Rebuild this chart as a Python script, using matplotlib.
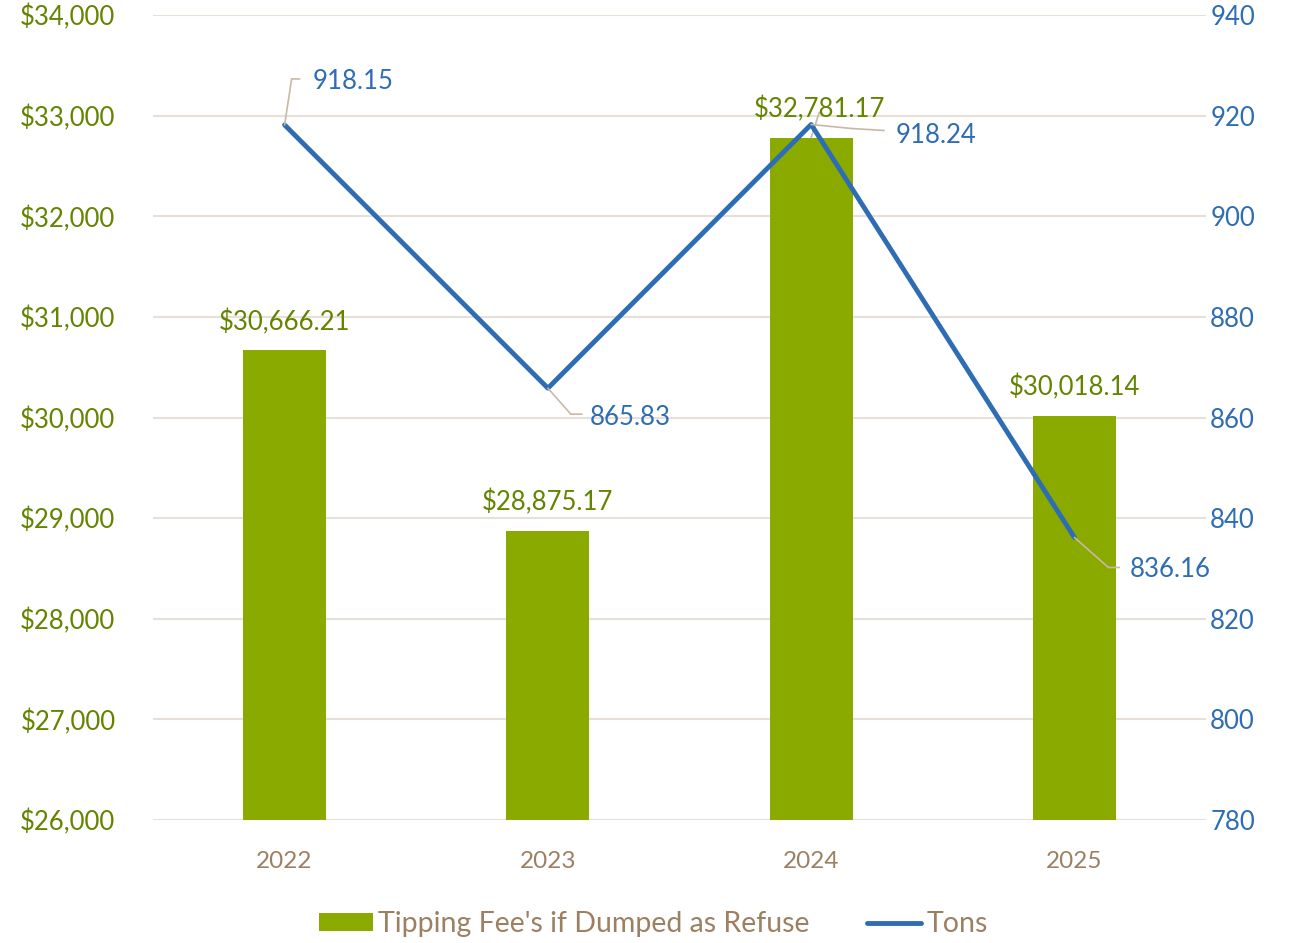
import matplotlib
matplotlib.use("Agg")
import matplotlib.pyplot as plt
from matplotlib.patches import Patch
from matplotlib.lines import Line2D
from matplotlib.transforms import offset_copy

years = ["2022", "2023", "2024", "2025"]
fees = [30666.21, 28875.17, 32781.17, 30018.14]
tons = [918.15, 865.83, 918.24, 836.16]
left_ticks = [26000, 27000, 28000, 29000, 30000, 31000, 32000, 33000, 34000]
right_ticks = [780, 800, 820, 840, 860, 880, 900, 920, 940]

BAR = "#8BAA00"
OLIVE = "#648400"
BLUE = "#2E6DB4"
BROWN = "#9C8062"
GRID = "#E6E0D8"
LEADER = "#C9B8A6"

plt.rcParams['font.family'] = ['Lato', 'DejaVu Sans']

fig = plt.figure(figsize=(12.91, 9.43), dpi=100)
ax = fig.add_axes([0.1185, 0.1304, 0.8157, 0.8537])
ax2 = ax.twinx()

x = list(range(len(years)))
ax.bar(x, fees, width=0.315, color=BAR, zorder=2)
ax.set_ylim(26000, 34000)
ax.set_xlim(-0.5, 3.5)
ax.set_yticks(left_ticks)
ax.set_yticklabels([f"${v:,.0f}" for v in left_ticks], color=OLIVE, fontsize=18.5)
ax.set_xticks(x)
ax.set_xticklabels(years, color=BROWN, fontsize=17.5)
ax.tick_params(axis='both', length=0)
ax.tick_params(axis='y', pad=27)
ax.tick_params(axis='x', pad=22)
ax.grid(axis='y', color=GRID, linewidth=1.5, zorder=0)
ax.set_axisbelow(True)
for s in ax.spines.values():
    s.set_visible(False)

ax2.plot(x, tons, color=BLUE, linewidth=3.5, solid_capstyle='round', zorder=3)
ax2.set_ylim(780, 940)
ax2.set_yticks(right_ticks)
ax2.set_yticklabels([str(v) for v in right_ticks], color=BLUE, fontsize=18.5)
ax2.tick_params(axis='y', length=0, pad=3)
for s in ax2.spines.values():
    s.set_visible(False)

# bar labels (horizontal pixel nudges)
bar_label_dx = [0, 0, 8, 0]
for i, v in enumerate(fees):
    ax.annotate(f"${v:,.2f}", xy=(i, v), xytext=(bar_label_dx[i], 28), textcoords='offset pixels',
                ha='center', va='center', color=OLIVE, fontsize=18.5, zorder=5)
# leader for 2024 bar label
ax.annotate('', xy=(2, fees[2]), xytext=(8, 25), textcoords='offset pixels',
            arrowprops=dict(arrowstyle='-', color=LEADER, lw=1.2, shrinkA=0, shrinkB=0), zorder=4)

# line labels with leaders: (corner offset, end offset, text offset) in pixels
leaders = [((7, 46), (15, 46), (28, 43)),
           ((23, -26), (34, -26), (42, -29)),
           ((40, -4), (73, -6), (84, -11)),
           ((34, -30), (45, -30), (55, -32))]
for i, v in enumerate(tons):
    c, e, t = leaders[i]
    ax2.annotate('', xy=(i, v), xytext=c, textcoords='offset pixels',
                 arrowprops=dict(arrowstyle='-', color=LEADER, lw=1.2, shrinkA=0, shrinkB=0), zorder=4)
    tr1 = offset_copy(ax2.transData, fig=fig, x=c[0], y=c[1], units='dots')
    tr2 = offset_copy(ax2.transData, fig=fig, x=e[0], y=e[1], units='dots')
    ax2.annotate('', xy=(i, v), xycoords=tr2, xytext=(i, v), textcoords=tr1,
                 arrowprops=dict(arrowstyle='-', color=LEADER, lw=1.2, shrinkA=0, shrinkB=0), zorder=4)
    ax2.annotate(f"{v:.2f}", xy=(i, v), xytext=t, textcoords='offset pixels',
                 ha='left', va='center', color=BLUE, fontsize=18.5, zorder=5)

handles = [Patch(facecolor=BAR, edgecolor='none'),
           Line2D([], [], color=BLUE, lw=3.5, solid_capstyle='round')]
fig.legend(handles, ["Tipping Fee's if Dumped as Refuse", "Tons"], loc='center',
           bbox_to_anchor=(0.506, 0.02), ncol=2, frameon=False, fontsize=20.5,
           labelcolor=BROWN, handlelength=1.9, handleheight=0.6, handletextpad=0.2,
           columnspacing=2.0)

fig.savefig("out.png", dpi=100)
